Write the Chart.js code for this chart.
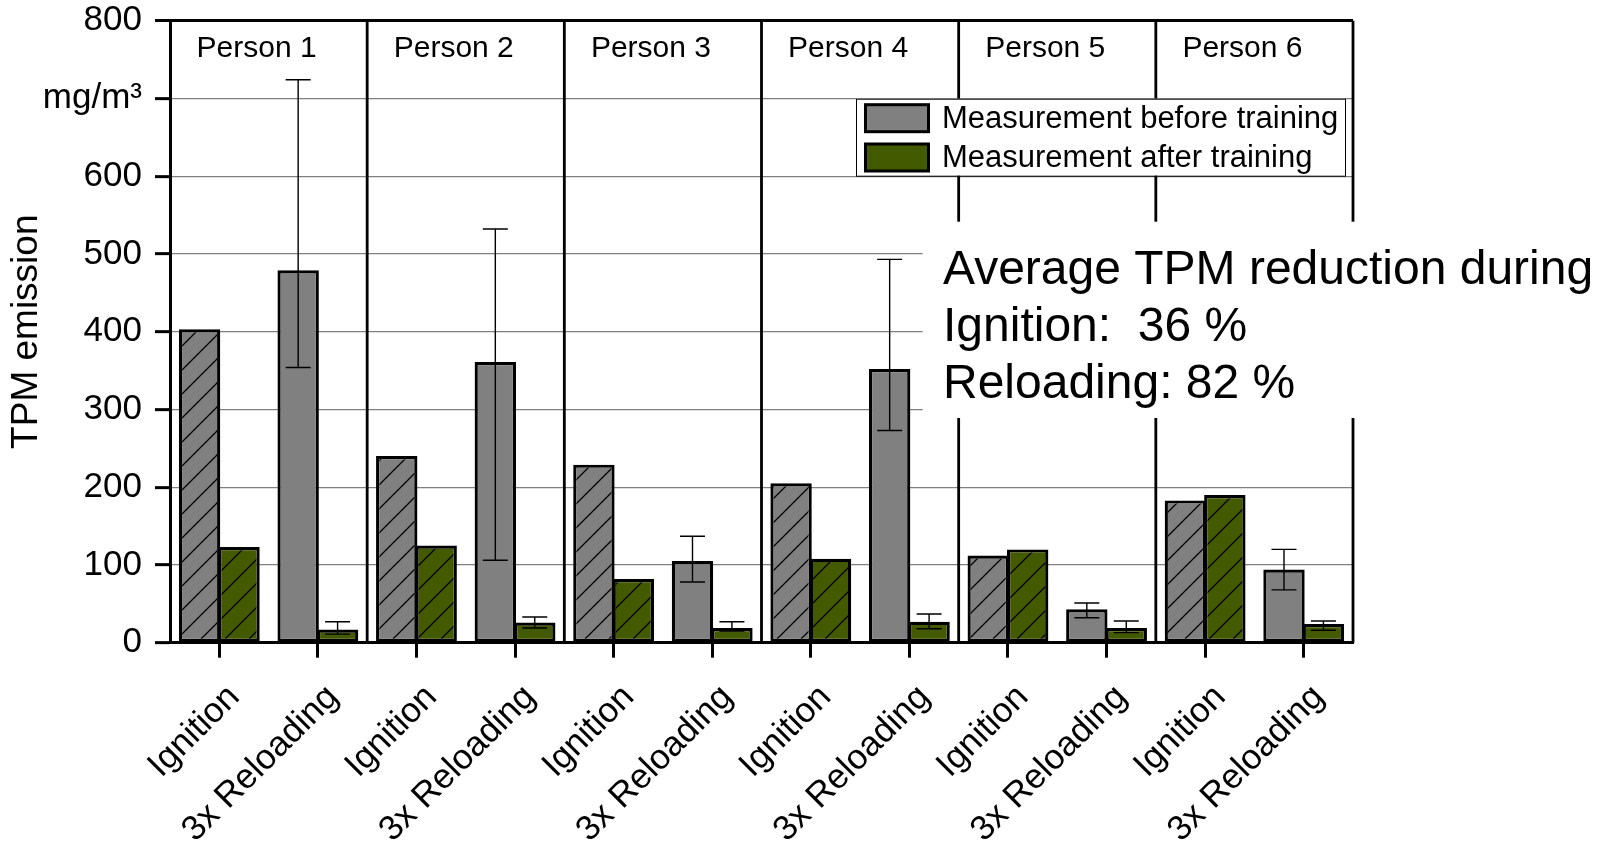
<!DOCTYPE html>
<html>
<head>
<meta charset="utf-8">
<script src="https://cdn.jsdelivr.net/npm/chart.js@4.4.1/dist/chart.umd.min.js"></script>
<style>
  html, body { margin: 0; padding: 0; background: #ffffff; }
  canvas { display: block; }
</style>
</head>
<body>
<canvas id="chart" width="1601" height="850"></canvas>
<script>
// ---- data ----
const persons = ['Person 1', 'Person 2', 'Person 3', 'Person 4', 'Person 5', 'Person 6'];
const categories = [
  'Ignition', '3x Reloading', 'Ignition', '3x Reloading', 'Ignition', '3x Reloading',
  'Ignition', '3x Reloading', 'Ignition', '3x Reloading', 'Ignition', '3x Reloading'
];
const seriesNames = ['Measurement before training', 'Measurement after training'];
const beforeTraining = [403, 479, 240, 361, 229, 105, 205, 352, 112, 43, 183, 94];
const afterTraining  = [123, 17, 125, 26, 82, 19, 108, 27, 120, 19, 190, 24];
// min / max range of the repeated reloading measurements
const beforeLow  = [null, 354, null, 106, null, 78, null, 273, null, 32, null, 68];
const beforeHigh = [null, 724, null, 532, null, 137, null, 493, null, 51, null, 120];
const afterLow   = [null, 11, null, 19, null, 15, null, 18, null, 13, null, 16];
const afterHigh  = [null, 27, null, 33, null, 27, null, 37, null, 28, null, 28];
const yTicks = [0, 100, 200, 300, 400, 500, 600, 700, 800];
const unitLabel = 'mg/m³';
const unitTick = 700;
const summaryLines = ['Average TPM reduction during', 'Ignition:  36 %', 'Reloading: 82 %'];

// ---- styling ----
const FONT = "'Liberation Sans', Arial, Helvetica, sans-serif";
const GRAY = '#808080';
const GREEN = '#445a00';

function hatch(color) {
  const s = 24;
  const c = document.createElement('canvas');
  c.width = s; c.height = s;
  const g = c.getContext('2d');
  g.fillStyle = color;
  g.fillRect(0, 0, s, s);
  g.strokeStyle = '#000';
  g.lineWidth = 1.3;
  g.beginPath();
  g.moveTo(-2, s + 2); g.lineTo(s + 2, -2);
  g.moveTo(-2, 2); g.lineTo(2, -2);
  g.moveTo(s - 2, s + 2); g.lineTo(s + 2, s - 2);
  g.stroke();
  return g.createPattern(c, 'repeat');
}
const grayHatch = hatch(GRAY);
const greenHatch = hatch(GREEN);

// Ignition bars are hatched, reloading bars solid
const fills = (solid, pattern) => categories.map(c => c === 'Ignition' ? pattern : solid);

// separators between persons, person names on top
const personGroups = {
  id: 'personGroups',
  beforeDatasetsDraw(chart) {
    const { ctx, chartArea: a, scales: { x } } = chart;
    ctx.save();
    ctx.strokeStyle = '#000';
    ctx.lineWidth = 2.8;
    const edges = [];
    for (let g = 1; g < persons.length; g++) {
      edges.push((x.getPixelForValue(2 * g - 1) + x.getPixelForValue(2 * g)) / 2);
    }
    ctx.beginPath();
    edges.forEach(px => { ctx.moveTo(px, a.top); ctx.lineTo(px, a.bottom); });
    ctx.moveTo(a.right, a.top); ctx.lineTo(a.right, a.bottom);
    ctx.stroke();
    ctx.fillStyle = '#000';
    ctx.font = '30px ' + FONT;
    ctx.textAlign = 'center';
    ctx.textBaseline = 'middle';
    persons.forEach((p, g) => {
      const cx = (x.getPixelForValue(2 * g) + x.getPixelForValue(2 * g + 1)) / 2;
      ctx.fillText(p, cx - 12, a.top + 28);
    });
    ctx.restore();
  }
};

// min-max whiskers on the reloading bars
const rangeBars = {
  id: 'rangeBars',
  afterDatasetsDraw(chart) {
    const { ctx, scales: { y } } = chart;
    ctx.save();
    ctx.strokeStyle = '#000';
    ctx.lineWidth = 1.4;
    [[0, beforeLow, beforeHigh], [1, afterLow, afterHigh]].forEach(([di, lo, hi]) => {
      chart.getDatasetMeta(di).data.forEach((bar, i) => {
        if (lo[i] == null) return;
        const x = bar.x;
        const y1 = y.getPixelForValue(lo[i]);
        const y2 = y.getPixelForValue(hi[i]);
        ctx.beginPath();
        ctx.moveTo(x, y1); ctx.lineTo(x, y2);
        ctx.moveTo(x - 12.5, y1); ctx.lineTo(x + 12.5, y1);
        ctx.moveTo(x - 12.5, y2); ctx.lineTo(x + 12.5, y2);
        ctx.stroke();
      });
    });
    ctx.restore();
  }
};

// boxed legend inside the plot and the summary text block
const overlays = {
  id: 'overlays',
  afterDraw(chart) {
    const { ctx, chartArea: a } = chart;
    ctx.save();
    // legend
    const lx = a.right - 497, ly = a.top + 78, lw = 489, lh = 77;
    ctx.fillStyle = '#fff';
    ctx.fillRect(lx, ly, lw, lh);
    ctx.strokeStyle = '#000';
    ctx.lineWidth = 1;
    ctx.strokeRect(lx + 0.5, ly + 0.5, lw, lh);
    ctx.font = '31px ' + FONT;
    ctx.textBaseline = 'middle';
    ctx.textAlign = 'left';
    chart.data.datasets.forEach((ds, i) => {
      const cy = ly + 19.5 + i * 39.3;
      ctx.fillStyle = '#000';
      ctx.fillRect(lx + 8, cy - 15, 66, 30);
      ctx.fillStyle = ds.legendColor;
      ctx.fillRect(lx + 11, cy - 12, 60, 24);
      ctx.fillStyle = '#000';
      ctx.fillText(ds.label, lx + 86, cy + 1);
    });
    // summary block
    const bx = 922.7, by = 221.7;
    ctx.fillStyle = '#fff';
    ctx.fillRect(bx, by, chart.width - bx, 196.3);
    ctx.fillStyle = '#000';
    ctx.font = '48px ' + FONT;
    ctx.textBaseline = 'alphabetic';
    summaryLines.forEach((t, i) => ctx.fillText(t, 943, 284 + i * 57.2));
    ctx.restore();
  }
};

Chart.defaults.font.family = FONT;
Chart.defaults.color = '#000';

new Chart(document.getElementById('chart'), {
  type: 'bar',
  data: {
    labels: categories,
    datasets: [
      {
        label: seriesNames[0],
        data: beforeTraining,
        backgroundColor: fills(GRAY, grayHatch),
        legendColor: GRAY,
        borderColor: '#000',
        borderWidth: 3.2,
        borderSkipped: false,
        categoryPercentage: 0.8,
        barPercentage: 1.05
      },
      {
        label: seriesNames[1],
        data: afterTraining,
        backgroundColor: fills(GREEN, greenHatch),
        legendColor: GREEN,
        borderColor: '#000',
        borderWidth: 3.2,
        borderSkipped: false,
        categoryPercentage: 0.8,
        barPercentage: 1.05
      }
    ]
  },
  options: {
    responsive: false,
    animation: false,
    devicePixelRatio: 1,
    layout: { padding: { top: 20.7, right: 248, bottom: 0, left: 0 } },
    plugins: { legend: { display: false }, tooltip: { enabled: false } },
    scales: {
      x: {
        offset: true,
        border: { display: true, color: '#000', width: 3, z: 1 },
        grid: {
          offset: false,
          drawOnChartArea: false,
          drawTicks: true,
          tickLength: 15,
          tickColor: '#000',
          tickWidth: 3
        },
        ticks: {
          autoSkip: false,
          minRotation: 45,
          maxRotation: 45,
          font: { size: 35 },
          color: '#000',
          padding: 19,
          labelOffset: 15
        },
        afterFit(scale) { scale.height = 207.3; }
      },
      y: {
        min: 0,
        max: 800,
        afterBuildTicks(scale) { scale.ticks = yTicks.map(v => ({ value: v })); },
        border: { display: true, color: '#000', width: 3 },
        grid: {
          color: c => (c.tick && c.tick.value === 800) ? '#000' : GRAY,
          lineWidth: c => (c.tick && c.tick.value === 800) ? 3 : 1.3,
          tickLength: 15,
          tickColor: '#000',
          tickWidth: 3
        },
        ticks: {
          font: { size: 35 },
          color: '#000',
          padding: 13,
          callback: v => v === unitTick ? unitLabel : v
        },
        title: {
          display: true,
          text: 'TPM emission',
          font: { size: 37 },
          color: '#000',
          padding: { top: 5, bottom: 0 }
        },
        afterFit(scale) {
          scale.width = 170;
          scale.paddingTop = 0;
          scale.paddingBottom = 0;
        }
      }
    }
  },
  plugins: [personGroups, rangeBars, overlays]
});
</script>
</body>
</html>
